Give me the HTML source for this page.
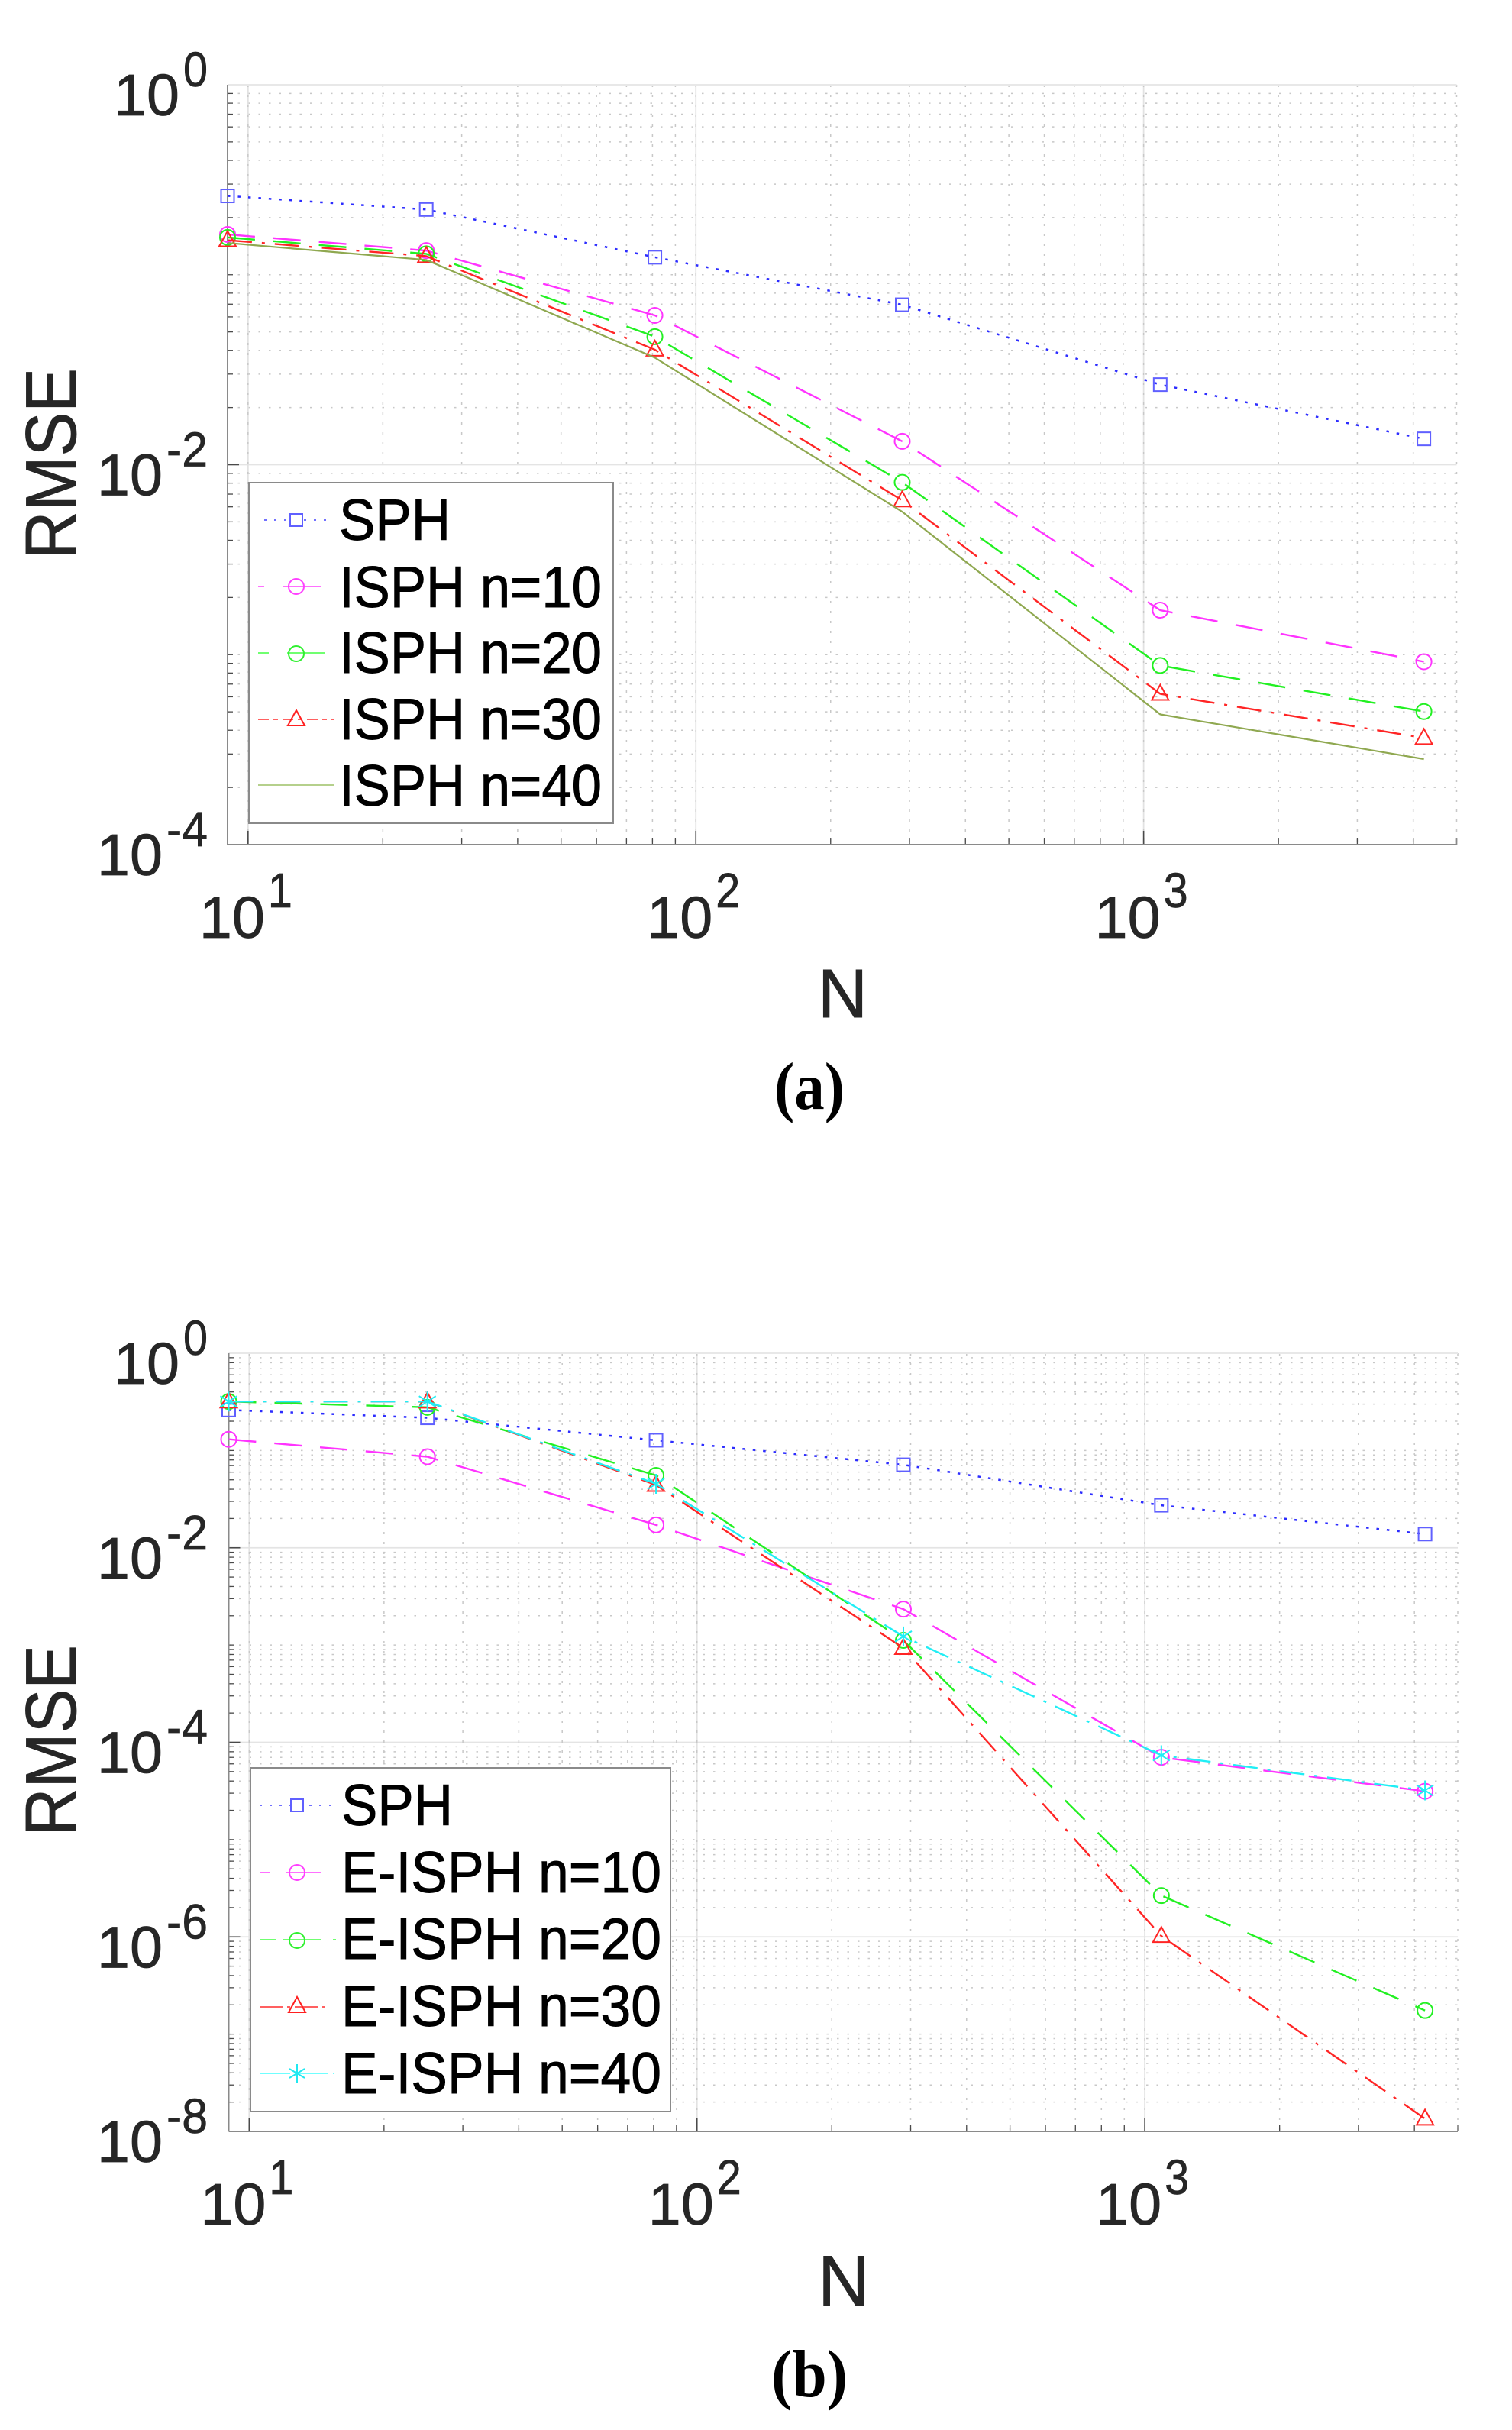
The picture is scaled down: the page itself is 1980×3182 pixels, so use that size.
<!DOCTYPE html>
<html lang="en">
<head>
<meta charset="utf-8">
<title>RMSE convergence of SPH, ISPH and E-ISPH</title>
<style>
html,body{margin:0;padding:0;background:#fff;}
svg{display:block;}
text{font-family:"Liberation Sans",Arial,sans-serif;}
.legend-text{font-size:76px;fill:#000;stroke:#000;stroke-width:0.9px;}
.axis-title{font-size:94px;fill:#262626;stroke:#262626;stroke-width:0.9px;}
.tick-text{fill:#262626;stroke:#262626;stroke-width:0.7px;}
.caption{font-family:"Liberation Serif","Times New Roman",serif;font-weight:bold;font-size:88px;fill:#000;}
</style>
</head>
<body>
<svg id="figure" xmlns="http://www.w3.org/2000/svg" width="1980" height="3182" viewBox="0 0 1980 3182">
  <rect x="0" y="0" width="1980" height="3182" fill="#fff"/>

  <g id="panel-a"></g>
  <g id="panel-b"></g>

  <!-- Panel (a) titles -->
  <text class="axis-title" transform="translate(99 732) rotate(-90)" textLength="250" lengthAdjust="spacingAndGlyphs">RMSE</text>
  <text class="axis-title" x="1071" y="1332" style="font-size:90px">N</text>
  <text class="caption" x="1014" y="1452" textLength="92" lengthAdjust="spacingAndGlyphs">(a)</text>

  <!-- Panel (a) legend -->
  <g>
    <rect x="326" y="632" width="477" height="446" fill="#fff" stroke="#8a8a8a" stroke-width="2"/>
    <g>
      <line x1="346" x2="430" y1="681" y2="681" stroke="#7070ff" stroke-width="2" stroke-dasharray="3 10"/>
      <rect x="380" y="673" width="16" height="16" fill="#fff" stroke="#6060ff" stroke-width="2"/>
      <text class="legend-text" x="444" y="707" textLength="146" lengthAdjust="spacingAndGlyphs">SPH</text>
    </g>
    <g>
      <line x1="338" x2="437" y1="768" y2="768" stroke="#ff70ff" stroke-width="2" stroke-dasharray="8 24 50 30"/>
      <circle cx="388" cy="768" r="10" fill="none" stroke="#ff40ff" stroke-width="2"/>
      <text class="legend-text" x="444" y="795" textLength="344" lengthAdjust="spacingAndGlyphs">ISPH n=10</text>
    </g>
    <g>
      <line x1="338" x2="437" y1="855" y2="855" stroke="#70ff70" stroke-width="2" stroke-dasharray="14 24 50 30"/>
      <circle cx="388" cy="856" r="10" fill="none" stroke="#30f030" stroke-width="2"/>
      <text class="legend-text" x="444" y="881" textLength="344" lengthAdjust="spacingAndGlyphs">ISPH n=20</text>
    </g>
    <g>
      <line x1="338" x2="437" y1="942" y2="942" stroke="#ff6060" stroke-width="2" stroke-dasharray="14 6 6 6"/>
      <polygon points="388,930 377,950 399,950" fill="none" stroke="#ff2020" stroke-width="2"/>
      <text class="legend-text" x="444" y="968" textLength="344" lengthAdjust="spacingAndGlyphs">ISPH n=30</text>
    </g>
    <g>
      <line x1="338" x2="437" y1="1028" y2="1028" stroke="#b5d08c" stroke-width="2"/>
      <text class="legend-text" x="444" y="1055" textLength="344" lengthAdjust="spacingAndGlyphs">ISPH n=40</text>
    </g>
  </g>

  <!-- Panel (b) titles -->
  <text class="axis-title" transform="translate(99 2404) rotate(-90)" textLength="250" lengthAdjust="spacingAndGlyphs">RMSE</text>
  <text class="axis-title" x="1071" y="3019">N</text>
  <text class="caption" x="1010" y="3138" textLength="100" lengthAdjust="spacingAndGlyphs">(b)</text>

  <!-- Panel (b) legend -->
  <g>
    <rect x="328" y="2315" width="550" height="450" fill="#fff" stroke="#8a8a8a" stroke-width="2"/>
    <g>
      <line x1="340" x2="438" y1="2364" y2="2364" stroke="#7070ff" stroke-width="2" stroke-dasharray="3 10"/>
      <rect x="381" y="2356" width="16" height="16" fill="#fff" stroke="#6060ff" stroke-width="2"/>
      <text class="legend-text" x="447" y="2390" textLength="146" lengthAdjust="spacingAndGlyphs">SPH</text>
    </g>
    <g>
      <line x1="340" x2="440" y1="2452" y2="2452" stroke="#ff70ff" stroke-width="2" stroke-dasharray="14 20 46 20"/>
      <circle cx="389" cy="2452" r="10" fill="none" stroke="#ff40ff" stroke-width="2"/>
      <text class="legend-text" x="447" y="2478" textLength="419" lengthAdjust="spacingAndGlyphs">E-ISPH n=10</text>
    </g>
    <g>
      <line x1="340" x2="440" y1="2540" y2="2540" stroke="#70ff70" stroke-width="2" stroke-dasharray="22 8 50 16"/>
      <circle cx="389" cy="2541" r="10" fill="none" stroke="#30f030" stroke-width="2"/>
      <text class="legend-text" x="447" y="2565" textLength="419" lengthAdjust="spacingAndGlyphs">E-ISPH n=20</text>
    </g>
    <g>
      <line x1="340" x2="430" y1="2628" y2="2628" stroke="#ff6060" stroke-width="2" stroke-dasharray="30 6 4 6"/>
      <polygon points="389,2615 378,2635 400,2635" fill="none" stroke="#ff2020" stroke-width="2"/>
      <text class="legend-text" x="447" y="2653" textLength="419" lengthAdjust="spacingAndGlyphs">E-ISPH n=30</text>
    </g>
    <g>
      <line x1="340" x2="438" y1="2715" y2="2715" stroke="#70ffff" stroke-width="2" stroke-dasharray="40 6 44 6"/>
      <path d="M389 2703V2727M379 2709L399 2721M379 2721L399 2709" fill="none" stroke="#20e8f0" stroke-width="2"/>
      <text class="legend-text" x="447" y="2741" textLength="419" lengthAdjust="spacingAndGlyphs">E-ISPH n=40</text>
    </g>
  </g>
</svg>

<script>
// Shared x data
const sampleCounts = [9, 25, 81, 289, 1089, 4225];

// Panel (a) series values
const sphA    = [0.260, 0.2205, 0.1236, 0.0695, 0.0264, 0.01368];
const isph10  = [0.163, 0.134, 0.0611, 0.01327, 0.001714, 0.000918];
const isph20  = [0.1572, 0.1288, 0.0472, 0.00807, 0.000877, 0.000502];
const isph30  = [0.152, 0.1253, 0.0403, 0.00649, 0.000622, 0.000364];
const isph40  = [0.147, 0.1197, 0.0366, 0.00565, 0.000485, 0.000282];

// Panel (b) series values
const sphB    = [0.261, 0.2168, 0.1274, 0.0713, 0.02735, 0.01384];
const eisph10 = [0.1303, 0.0863, 0.01718, 0.00234, 7.01e-5, 3.14e-5];
const eisph20 = [0.319, 0.278, 0.0555, 0.001117, 2.66e-6, 1.75e-7];
const eisph30 = [0.319, 0.318, 0.0442, 0.000933, 1.02e-6, 1.35e-8];
const eisph40 = [0.319, 0.319, 0.0454, 0.001225, 7.35e-5, 3.2e-5];

// Tick labels (exponents of ten)
const xTickExponents = [1, 2, 3];
const yTickExponentsA = [0, -2, -4];
const yTickExponentsB = [0, -2, -4, -6, -8];

// Axis limits
const xLimits = [9, 5000];
const yLimitsA = [1e-4, 1];
const yLimitsB = [1e-8, 1];

const NS = 'http://www.w3.org/2000/svg';
const AXIS_GRAY = '#8a8a8a';
const TICK_DARK = '#4a4a4a';

function mk(parent, tag, attrs) {
  const el = document.createElementNS(NS, tag);
  for (const k in attrs) el.setAttribute(k, attrs[k]);
  parent.appendChild(el);
  return el;
}

function drawMarker(g, kind, x, y, color) {
  let el = null;
  if (kind === 'square') {
    el = mk(g, 'rect', {x: x - 8.5, y: y - 8.5, width: 17, height: 17, fill: 'none', stroke: color, 'stroke-width': 2});
  } else if (kind === 'circle') {
    el = mk(g, 'circle', {cx: x, cy: y, r: 10, fill: 'none', stroke: color, 'stroke-width': 2});
  } else if (kind === 'triangle') {
    el = mk(g, 'polygon', {points: (x) + ',' + (y - 12) + ' ' + (x - 11) + ',' + (y + 8) + ' ' + (x + 11) + ',' + (y + 8), fill: 'none', stroke: color, 'stroke-width': 2});
  } else if (kind === 'star') {
    el = mk(g, 'path', {d: 'M' + x + ' ' + (y - 13) + 'V' + (y + 13) + 'M' + (x - 11) + ' ' + (y - 7) + 'L' + (x + 11) + ' ' + (y + 7) + 'M' + (x - 11) + ' ' + (y + 7) + 'L' + (x + 11) + ' ' + (y - 7), fill: 'none', stroke: color, 'stroke-width': 2});
  }
  return el;
}

function drawPanel(root, box, yLimits, yExps, seriesList, suffix) {
  const lx0 = Math.log10(xLimits[0]), lx1 = Math.log10(xLimits[1]);
  const ly0 = Math.log10(yLimits[0]), ly1 = Math.log10(yLimits[1]);
  const xScale = v => box.left + (Math.log10(v) - lx0) / (lx1 - lx0) * (box.right - box.left);
  const yScale = v => box.top + (ly1 - Math.log10(v)) / (ly1 - ly0) * (box.bottom - box.top);

  const grid = mk(root, 'g', {});
  
  
  const ticks = mk(root, 'g', {});
  
  

  // Horizontal grid and y ticks
  for (let d = Math.round(ly1) - 1; d >= Math.round(ly0); d--) {
    for (let m = 2; m <= 10; m++) {
      const y = yScale(m * Math.pow(10, d));
      const isMajorExp = m === 10 && yExps.indexOf(d + 1) >= 0;
      if (!isMajorExp) {
        mk(grid, 'line', {x1: box.left, x2: box.right, y1: y, y2: y, stroke: '#c8c8c8', 'stroke-width': 1.5, 'stroke-dasharray': '2.5 11'});
        mk(ticks, 'line', {x1: box.left, x2: box.left + 7, y1: y, y2: y, stroke: TICK_DARK, 'stroke-width': 1.3});
      }
    }
  }
  yExps.forEach(function (e) {
    const y = yScale(Math.pow(10, e));
    if (e !== Math.round(ly0)) {
      mk(grid, 'line', {x1: box.left, x2: box.right, y1: y, y2: y, stroke: '#e4e4e4', 'stroke-width': 1.8});
      mk(ticks, 'line', {x1: box.left, x2: box.left + 15, y1: y, y2: y, stroke: TICK_DARK, 'stroke-width': 1.6});
    }
    const len = String(e).length === 1 ? 32 : 54;
    const base = mk(root, 'text', {x: 272 - len - 91, y: y + 40, 'font-size': 77, 'class': 'tick-text', textLength: 86, lengthAdjust: 'spacingAndGlyphs'});
    base.textContent = '10';
    
    
    const sup = mk(root, 'text', {x: 272 - len, y: y + 2, 'font-size': 64, 'class': 'tick-text', textLength: len, lengthAdjust: 'spacingAndGlyphs'});
    sup.textContent = String(e);
    
    
  });

  // Vertical grid and x ticks
  for (let d = 0; d <= 3; d++) {
    for (let m = 1; m <= 10; m++) {
      const v = m * Math.pow(10, d);
      if (v <= xLimits[0] || v > xLimits[1]) continue;
      const x = xScale(v);
      const major = m === 10;
      if (major) {
        mk(grid, 'line', {x1: x, x2: x, y1: box.top, y2: box.bottom, stroke: '#e2e2e2', 'stroke-width': 1.8});
        mk(ticks, 'line', {x1: x, x2: x, y1: box.bottom - 18, y2: box.bottom, stroke: TICK_DARK, 'stroke-width': 1.6});
      } else {
        mk(grid, 'line', {x1: x, x2: x, y1: box.top, y2: box.bottom, stroke: '#c8c8c8', 'stroke-width': 1.5, 'stroke-dasharray': '3 10'});
        mk(ticks, 'line', {x1: x, x2: x, y1: box.bottom - 9, y2: box.bottom, stroke: TICK_DARK, 'stroke-width': 1.3});
      }
    }
  }
  xTickExponents.forEach(function (e) {
    const x = xScale(Math.pow(10, e));
    const base = mk(root, 'text', {x: x - 64, y: box.bottom + 122, 'font-size': 77, 'class': 'tick-text', textLength: 86, lengthAdjust: 'spacingAndGlyphs'});
    base.textContent = '10';
    
    
    const sup = mk(root, 'text', {x: x + 26, y: box.bottom + 82, 'font-size': 64, 'class': 'tick-text', textLength: 32, lengthAdjust: 'spacingAndGlyphs'});
    sup.textContent = String(e);
    
    
  });

  // Axes frame
  const top = mk(root, 'line', {x1: box.left, x2: box.right, y1: box.top, y2: box.top, stroke: '#e8e8e8', 'stroke-width': 2});
  
  
  const yAxis = mk(root, 'line', {x1: box.left, x2: box.left, y1: box.top, y2: box.bottom, stroke: AXIS_GRAY, 'stroke-width': 2});
  
  
  const xAxis = mk(root, 'line', {x1: box.left, x2: box.right, y1: box.bottom, y2: box.bottom, stroke: AXIS_GRAY, 'stroke-width': 2});
  
  
  const endTick = mk(root, 'line', {x1: box.right, x2: box.right, y1: box.bottom - 9, y2: box.bottom, stroke: AXIS_GRAY, 'stroke-width': 1.5});
  
  

  // Series
  seriesList.forEach(function (s) {
    const g = mk(root, 'g', {});
    
    
    const pts = s.values.map(function (v, i) { return xScale(sampleCounts[i]) + ',' + yScale(v); }).join(' ');
    const attrs = {points: pts, fill: 'none', stroke: s.color, 'stroke-width': s.width};
    if (s.dash) attrs['stroke-dasharray'] = s.dash;
    const line = mk(g, 'polyline', attrs);
    
    
    if (s.marker) {
      s.values.forEach(function (v, i) {
        const m = drawMarker(g, s.marker, xScale(sampleCounts[i]), yScale(v), s.markerColor || s.color);
        
        
      });
    }
  });
}

const dotted = '3.5 10';
const dashed = '36 24';
const dashDot = '32 13 4 13';

const seriesA = [
  {key: 'sph', values: sphA, color: '#2c2cff', markerColor: '#6060ff', width: 2.5, dash: dotted, marker: 'square'},
  {key: 'isph-10', values: isph10, color: '#ff33ff', width: 2.4, dash: dashed, marker: 'circle'},
  {key: 'isph-20', values: isph20, color: '#22f022', width: 2.4, dash: dashed, marker: 'circle'},
  {key: 'isph-30', values: isph30, color: '#ff2525', width: 2.4, dash: dashDot, marker: 'triangle'},
  {key: 'isph-40', values: isph40, color: '#8fa850', width: 2.2, dash: null, marker: null}
];
const seriesB = [
  {key: 'sph-b', values: sphB, color: '#2c2cff', markerColor: '#6060ff', width: 2.5, dash: dotted, marker: 'square'},
  {key: 'eisph-10', values: eisph10, color: '#ff33ff', width: 2.4, dash: dashed, marker: 'circle'},
  {key: 'eisph-20', values: eisph20, color: '#22f022', width: 2.4, dash: dashed, marker: 'circle'},
  {key: 'eisph-30', values: eisph30, color: '#ff2525', width: 2.4, dash: dashDot, marker: 'triangle'},
  {key: 'eisph-40', values: eisph40, color: '#20eef5', width: 2.4, dash: dashDot, marker: 'star'}
];

drawPanel(document.getElementById('panel-a'), {left: 298, right: 1907.5, top: 111, bottom: 1106}, yLimitsA, yTickExponentsA, seriesA, 'a');
drawPanel(document.getElementById('panel-b'), {left: 299.5, right: 1909, top: 1772, bottom: 2791}, yLimitsB, yTickExponentsB, seriesB, 'b');
</script>
</body>
</html>
